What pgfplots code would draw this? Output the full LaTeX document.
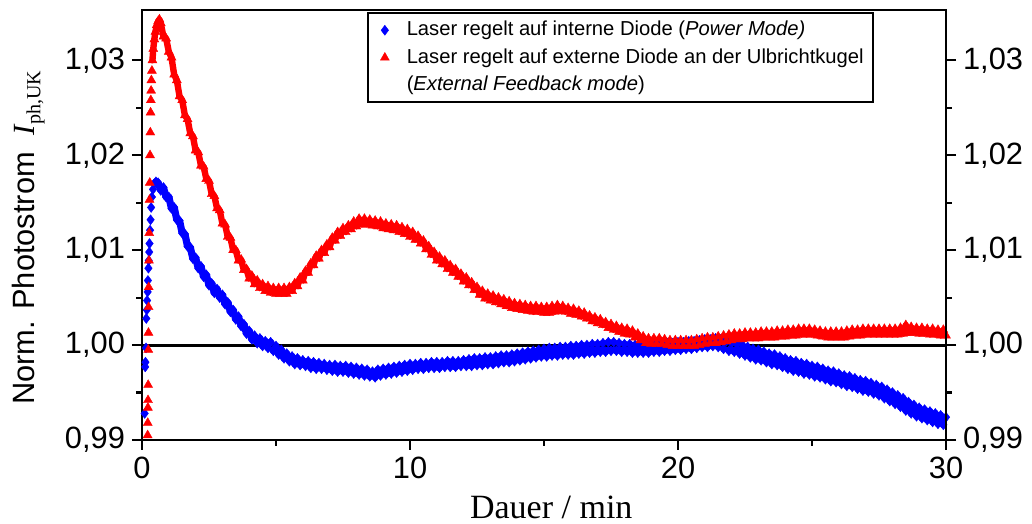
\documentclass[border=0pt]{standalone}
\usepackage{fontspec}
\setmainfont{Liberation Sans}
\newfontfamily\serif{Liberation Serif}
\usepackage{pgfplots}
\usepackage{pgfplotstable}
\pgfplotsset{compat=1.18}

\pgfplotstableread{
t v
0.10 0.9928
0.12 0.9977
0.13 0.9982
0.15 0.9997
0.16 1.0028
0.18 1.0037
0.19 1.0047
0.21 1.0056
0.22 1.0068
0.24 1.0081
0.25 1.0089
0.27 1.0098
0.28 1.0107
0.30 1.0121
0.32 1.0132
0.34 1.0145
0.37 1.0156
0.41 1.0164
0.46 1.0170
0.52 1.0172
0.6 1.0171
0.7 1.0163
0.8 1.0166
0.9 1.0156
1.0 1.0156
1.1 1.0144
1.2 1.0145
1.3 1.0132
1.4 1.0131
1.5 1.0118
1.6 1.0117
1.7 1.0104
1.8 1.0103
1.9 1.0091
2.0 1.0092
2.1 1.0081
2.2 1.0083
2.3 1.0072
2.4 1.0074
2.5 1.0063
2.6 1.0065
2.7 1.0055
2.8 1.0059
2.9 1.0050
3.0 1.0053
3.1 1.0043
3.2 1.0045
3.3 1.0035
3.4 1.0037
3.5 1.0027
3.6 1.0030
3.7 1.0020
3.8 1.0022
3.9 1.0012
4.0 1.0015
4.1 1.0006
4.2 1.0010
4.3 1.0002
4.4 1.0007
4.5 0.9999
4.6 1.0004
4.7 0.9997
4.8 1.0003
4.9 0.9994
5.0 0.9999
5.1 0.9990
5.2 0.9995
5.3 0.9986
5.4 0.9991
5.5 0.9983
5.6 0.9988
5.7 0.9980
5.8 0.9986
5.9 0.9979
6.0 0.9984
6.1 0.9978
6.2 0.9983
6.3 0.9976
6.4 0.9982
6.5 0.9975
6.6 0.9981
6.7 0.9975
6.8 0.9980
6.9 0.9974
7.0 0.9979
7.1 0.9973
7.2 0.9979
7.3 0.9972
7.4 0.9978
7.5 0.9972
7.6 0.9978
7.7 0.9971
7.8 0.9977
7.9 0.9970
8.0 0.9976
8.1 0.9969
8.2 0.9975
8.3 0.9968
8.4 0.9974
8.5 0.9967
8.6 0.9972
8.7 0.9966
8.8 0.9974
8.9 0.9968
9.0 0.9975
9.1 0.9969
9.2 0.9976
9.3 0.9970
9.4 0.9977
9.5 0.9971
9.6 0.9978
9.7 0.9972
9.8 0.9979
9.9 0.9973
10.0 0.9980
10.1 0.9974
10.2 0.9980
10.3 0.9975
10.4 0.9981
10.5 0.9975
10.6 0.9981
10.7 0.9976
10.8 0.9982
10.9 0.9976
11.0 0.9982
11.1 0.9976
11.2 0.9982
11.3 0.9977
11.4 0.9983
11.5 0.9977
11.6 0.9983
11.7 0.9977
11.8 0.9983
11.9 0.9978
12.0 0.9984
12.1 0.9978
12.2 0.9985
12.3 0.9978
12.4 0.9986
12.5 0.9979
12.6 0.9986
12.7 0.9979
12.8 0.9987
12.9 0.9980
13.0 0.9987
13.1 0.9980
13.2 0.9988
13.3 0.9981
13.4 0.9989
13.5 0.9982
13.6 0.9989
13.7 0.9982
13.8 0.9990
13.9 0.9983
14.0 0.9991
14.1 0.9984
14.2 0.9992
14.3 0.9985
14.4 0.9993
14.5 0.9986
14.6 0.9994
14.7 0.9987
14.8 0.9995
14.9 0.9988
15.0 0.9996
15.1 0.9988
15.2 0.9997
15.3 0.9989
15.4 0.9997
15.5 0.9989
15.6 0.9998
15.7 0.9990
15.8 0.9998
15.9 0.9990
16.0 0.9999
16.1 0.9990
16.2 0.9999
16.3 0.9991
16.4 1.0000
16.5 0.9991
16.6 1.0000
16.7 0.9992
16.8 1.0001
16.9 0.9992
17.0 1.0001
17.1 0.9993
17.2 1.0002
17.3 0.9993
17.4 1.0003
17.5 0.9994
17.6 1.0003
17.7 0.9994
17.8 1.0002
17.9 0.9993
18.0 1.0001
18.1 0.9993
18.2 1.0001
18.3 0.9992
18.4 1.0000
18.5 0.9992
18.6 1.0000
18.7 0.9992
18.8 1.0000
18.9 0.9992
19.0 1.0000
19.1 0.9993
19.2 1.0001
19.3 0.9993
19.4 1.0001
19.5 0.9994
19.6 1.0002
19.7 0.9994
19.8 1.0002
19.9 0.9995
20.0 1.0003
20.1 0.9995
20.2 1.0003
20.3 0.9996
20.4 1.0004
20.5 0.9996
20.6 1.0004
20.7 0.9997
20.8 1.0005
20.9 0.9998
21.0 1.0006
21.1 0.9998
21.2 1.0006
21.3 0.9999
21.4 1.0007
21.5 0.9998
21.6 1.0006
21.7 0.9996
21.8 1.0004
21.9 0.9994
22.0 1.0002
22.1 0.9993
22.2 1.0001
22.3 0.9991
22.4 1.0000
22.5 0.9989
22.6 0.9998
22.7 0.9987
22.8 0.9996
22.9 0.9985
23.0 0.9995
23.1 0.9984
23.2 0.9993
23.3 0.9982
23.4 0.9991
23.5 0.9980
23.6 0.9990
23.7 0.9979
23.8 0.9988
23.9 0.9977
24.0 0.9986
24.1 0.9975
24.2 0.9984
24.3 0.9973
24.4 0.9983
24.5 0.9972
24.6 0.9981
24.7 0.9970
24.8 0.9980
24.9 0.9969
25.0 0.9978
25.1 0.9967
25.2 0.9977
25.3 0.9966
25.4 0.9975
25.5 0.9964
25.6 0.9973
25.7 0.9962
25.8 0.9972
25.9 0.9961
26.0 0.9970
26.1 0.9959
26.2 0.9968
26.3 0.9957
26.4 0.9967
26.5 0.9956
26.6 0.9965
26.7 0.9954
26.8 0.9963
26.9 0.9952
27.0 0.9962
27.1 0.9951
27.2 0.9960
27.3 0.9949
27.4 0.9958
27.5 0.9947
27.6 0.9956
27.7 0.9944
27.8 0.9953
27.9 0.9941
28.0 0.9950
28.1 0.9938
28.2 0.9947
28.3 0.9935
28.4 0.9944
28.5 0.9931
28.6 0.9940
28.7 0.9928
28.8 0.9937
28.9 0.9925
29.0 0.9934
29.1 0.9923
29.2 0.9932
29.3 0.9921
29.4 0.9930
29.5 0.9919
29.6 0.9928
29.7 0.9917
29.8 0.9926
29.9 0.9916
30.0 0.9924
}\bluedata

\pgfplotstableread{
t v
0.21 0.9905
0.215 0.9918
0.22 0.9934
0.225 0.9942
0.23 0.9958
0.235 0.9995
0.24 1.0013
0.245 1.0040
0.25 1.0061
0.26 1.0089
0.27 1.0118
0.28 1.0153
0.29 1.0171
0.30 1.0200
0.31 1.0224
0.32 1.0245
0.33 1.0258
0.34 1.0268
0.35 1.0279
0.37 1.0289
0.39 1.0300
0.42 1.0312
0.46 1.0322
0.50 1.0330
0.55 1.0337
0.60 1.0341
0.65 1.0343
0.7 1.0339
0.8 1.0325
0.9 1.0323
1.0 1.0309
1.1 1.0303
1.2 1.0285
1.3 1.0279
1.4 1.0262
1.5 1.0258
1.6 1.0242
1.7 1.0238
1.8 1.0223
1.9 1.0220
2.0 1.0205
2.1 1.0203
2.2 1.0189
2.3 1.0188
2.4 1.0175
2.5 1.0173
2.6 1.0159
2.7 1.0157
2.8 1.0144
2.9 1.0142
3.0 1.0128
3.1 1.0127
3.2 1.0114
3.3 1.0113
3.4 1.0100
3.5 1.0100
3.6 1.0089
3.7 1.0090
3.8 1.0079
3.9 1.0080
4.0 1.0070
4.1 1.0073
4.2 1.0064
4.3 1.0068
4.4 1.0060
4.5 1.0064
4.6 1.0057
4.7 1.0062
4.8 1.0055
4.9 1.0060
5.0 1.0054
5.1 1.0060
5.2 1.0054
5.3 1.0060
5.4 1.0054
5.5 1.0061
5.6 1.0057
5.7 1.0065
5.8 1.0062
5.9 1.0071
6.0 1.0068
6.1 1.0078
6.2 1.0076
6.3 1.0086
6.4 1.0084
6.5 1.0094
6.6 1.0091
6.7 1.0100
6.8 1.0097
6.9 1.0106
7.0 1.0103
7.1 1.0113
7.2 1.0110
7.3 1.0119
7.4 1.0115
7.5 1.0123
7.6 1.0119
7.7 1.0126
7.8 1.0122
7.9 1.0130
8.0 1.0125
8.1 1.0133
8.2 1.0127
8.3 1.0133
8.4 1.0127
8.5 1.0132
8.6 1.0126
8.7 1.0131
8.8 1.0125
8.9 1.0130
9.0 1.0123
9.1 1.0128
9.2 1.0122
9.3 1.0127
9.4 1.0121
9.5 1.0126
9.6 1.0119
9.7 1.0124
9.8 1.0117
9.9 1.0122
10.0 1.0114
10.1 1.0119
10.2 1.0111
10.3 1.0115
10.4 1.0107
10.5 1.0110
10.6 1.0101
10.7 1.0104
10.8 1.0095
10.9 1.0098
11.0 1.0089
11.1 1.0093
11.2 1.0085
11.3 1.0089
11.4 1.0080
11.5 1.0084
11.6 1.0076
11.7 1.0080
11.8 1.0072
11.9 1.0075
12.0 1.0067
12.1 1.0071
12.2 1.0063
12.3 1.0066
12.4 1.0058
12.5 1.0061
12.6 1.0053
12.7 1.0057
12.8 1.0049
12.9 1.0054
13.0 1.0047
13.1 1.0052
13.2 1.0045
13.3 1.0050
13.4 1.0043
13.5 1.0048
13.6 1.0041
13.7 1.0046
13.8 1.0039
13.9 1.0044
14.0 1.0038
14.1 1.0043
14.2 1.0037
14.3 1.0042
14.4 1.0036
14.5 1.0041
14.6 1.0035
14.7 1.0041
14.8 1.0035
14.9 1.0040
15.0 1.0034
15.1 1.0040
15.2 1.0034
15.3 1.0041
15.4 1.0035
15.5 1.0042
15.6 1.0036
15.7 1.0041
15.8 1.0035
15.9 1.0039
16.0 1.0033
16.1 1.0038
16.2 1.0032
16.3 1.0036
16.4 1.0030
16.5 1.0034
16.6 1.0028
16.7 1.0031
16.8 1.0025
16.9 1.0029
17.0 1.0023
17.1 1.0027
17.2 1.0021
17.3 1.0024
17.4 1.0018
17.5 1.0022
17.6 1.0016
17.7 1.0020
17.8 1.0014
17.9 1.0018
18.0 1.0012
18.1 1.0017
18.2 1.0011
18.3 1.0015
18.4 1.0008
18.5 1.0012
18.6 1.0005
18.7 1.0009
18.8 1.0002
18.9 1.0007
19.0 1.0001
19.1 1.0007
19.2 1.0001
19.3 1.0007
19.4 1.0001
19.5 1.0006
19.6 1.0000
19.7 1.0005
19.8 0.9999
19.9 1.0005
20.0 0.9999
20.1 1.0005
20.2 0.9999
20.3 1.0005
20.4 0.9999
20.5 1.0005
20.6 0.9999
20.7 1.0006
20.8 1.0000
20.9 1.0007
21.0 1.0001
21.1 1.0008
21.2 1.0002
21.3 1.0008
21.4 1.0002
21.5 1.0009
21.6 1.0003
21.7 1.0010
21.8 1.0004
21.9 1.0011
22.0 1.0005
22.1 1.0012
22.2 1.0006
22.3 1.0012
22.4 1.0006
22.5 1.0013
22.6 1.0007
22.7 1.0013
22.8 1.0007
22.9 1.0013
23.0 1.0007
23.1 1.0014
23.2 1.0008
23.3 1.0014
23.4 1.0008
23.5 1.0014
23.6 1.0008
23.7 1.0015
23.8 1.0009
23.9 1.0015
24.0 1.0009
24.1 1.0016
24.2 1.0010
24.3 1.0016
24.4 1.0010
24.5 1.0017
24.6 1.0011
24.7 1.0017
24.8 1.0011
24.9 1.0017
25.0 1.0011
25.1 1.0016
25.2 1.0010
25.3 1.0015
25.4 1.0009
25.5 1.0014
25.6 1.0008
25.7 1.0014
25.8 1.0008
25.9 1.0014
26.0 1.0008
26.1 1.0014
26.2 1.0008
26.3 1.0015
26.4 1.0009
26.5 1.0016
26.6 1.0010
26.7 1.0016
26.8 1.0010
26.9 1.0017
27.0 1.0011
27.1 1.0017
27.2 1.0011
27.3 1.0017
27.4 1.0011
27.5 1.0017
27.6 1.0011
27.7 1.0017
27.8 1.0011
27.9 1.0017
28.0 1.0011
28.1 1.0017
28.2 1.0011
28.3 1.0018
28.4 1.0012
28.5 1.0021
28.6 1.0013
28.7 1.0019
28.8 1.0013
28.9 1.0018
29.0 1.0012
29.1 1.0018
29.2 1.0012
29.3 1.0017
29.4 1.0011
29.5 1.0017
29.6 1.0011
29.7 1.0016
29.8 1.0010
29.9 1.0016
30.0 1.0010
}\reddata

\begin{document}
\begin{tikzpicture}
\path[use as bounding box] (0,0) rectangle (516pt,262pt);
\pgfplotsset{
  common/.style={
    scale only axis, width=402pt, height=215pt,
    at={(71pt,42pt)}, anchor=south west,
    xmin=0, xmax=30, ymin=0.99, ymax=1.0353,
    enlargelimits=false,
    ytick={0.99,1.00,1.01,1.02,1.03},
    minor ytick={0.995,1.005,1.015,1.025},
    tick align=outside,
    major tick length=5pt, minor tick length=2.8pt,
    every tick/.style={black, line width=1.1pt},
    axis line style={line width=1.3pt},
    scaled y ticks=false,
    /pgf/number format/assume math mode=true,
    tick label style={font=\fontsize{15.4}{18}\selectfont},
    yticklabel style={/pgf/number format/.cd, fixed, fixed zerofill, precision=2, use comma},
  }
}
\begin{axis}[common,
  xtick={0,10,20,30}, minor xtick={5,15,25},
  xtick pos=bottom, ytick pos=left,
  every axis x label/.style={at={(axis description cs:0.509,-0.1814)}, anchor=base, inner sep=0pt},
  every axis y label/.style={at={(axis description cs:-0.1617,0.47)}, rotate=90, anchor=north, inner sep=0pt},
  xlabel={\serif\fontsize{17}{20}\selectfont Dauer / min},
  ylabel={\fontsize{15.4}{18}\selectfont Norm. Photostrom\ \ {\serif\itshape I}\raisebox{-0.35ex}{\serif\fontsize{10}{12}\selectfont ph,UK}},
  legend cell align=left,
  legend image code/.code={\path (0pt,0pt) (14pt,0pt); \draw[#1] plot coordinates {(5pt,0pt)};},
  legend style={at={(0.2799,0.995)}, anchor=north west, draw=black, line width=0.9pt,
    font=\fontsize{10.1}{12.5}\selectfont, inner xsep=3pt, inner ysep=2pt, row sep=0.5pt,
    nodes={inner sep=1.5pt, text height=7.8pt, text depth=2.4pt}},
]
\addplot[blue, line width=3.6pt, line join=round, line cap=round, forget plot,
  restrict x to domain=0.45:30] table {\bluedata};
\addplot[only marks, mark=diamond*, mark size=2.5pt, color=blue, mark options={fill=blue, draw=blue, line width=0.2pt}] table {\bluedata};
\addlegendentry{Laser regelt auf interne Diode (\textit{Power Mode)}}
\addplot[red, line width=3.2pt, line join=round, line cap=round, forget plot,
  restrict x to domain=0.38:30] table {\reddata};
\addplot[only marks, mark=triangle*, mark size=2.6pt, color=red, mark options={fill=red, draw=red, line width=0.2pt}] table {\reddata};
\addlegendentry{Laser regelt auf externe Diode an der Ulbrichtkugel}
\addlegendimage{empty legend}
\addlegendentry{(\textit{External Feedback mode})}
\draw[black, line width=1.5pt] (axis cs:0,1) -- (axis cs:30,1);
\end{axis}
\begin{axis}[common,
  hide x axis, axis y line*=right,
]
\end{axis}
\end{tikzpicture}
\end{document}
